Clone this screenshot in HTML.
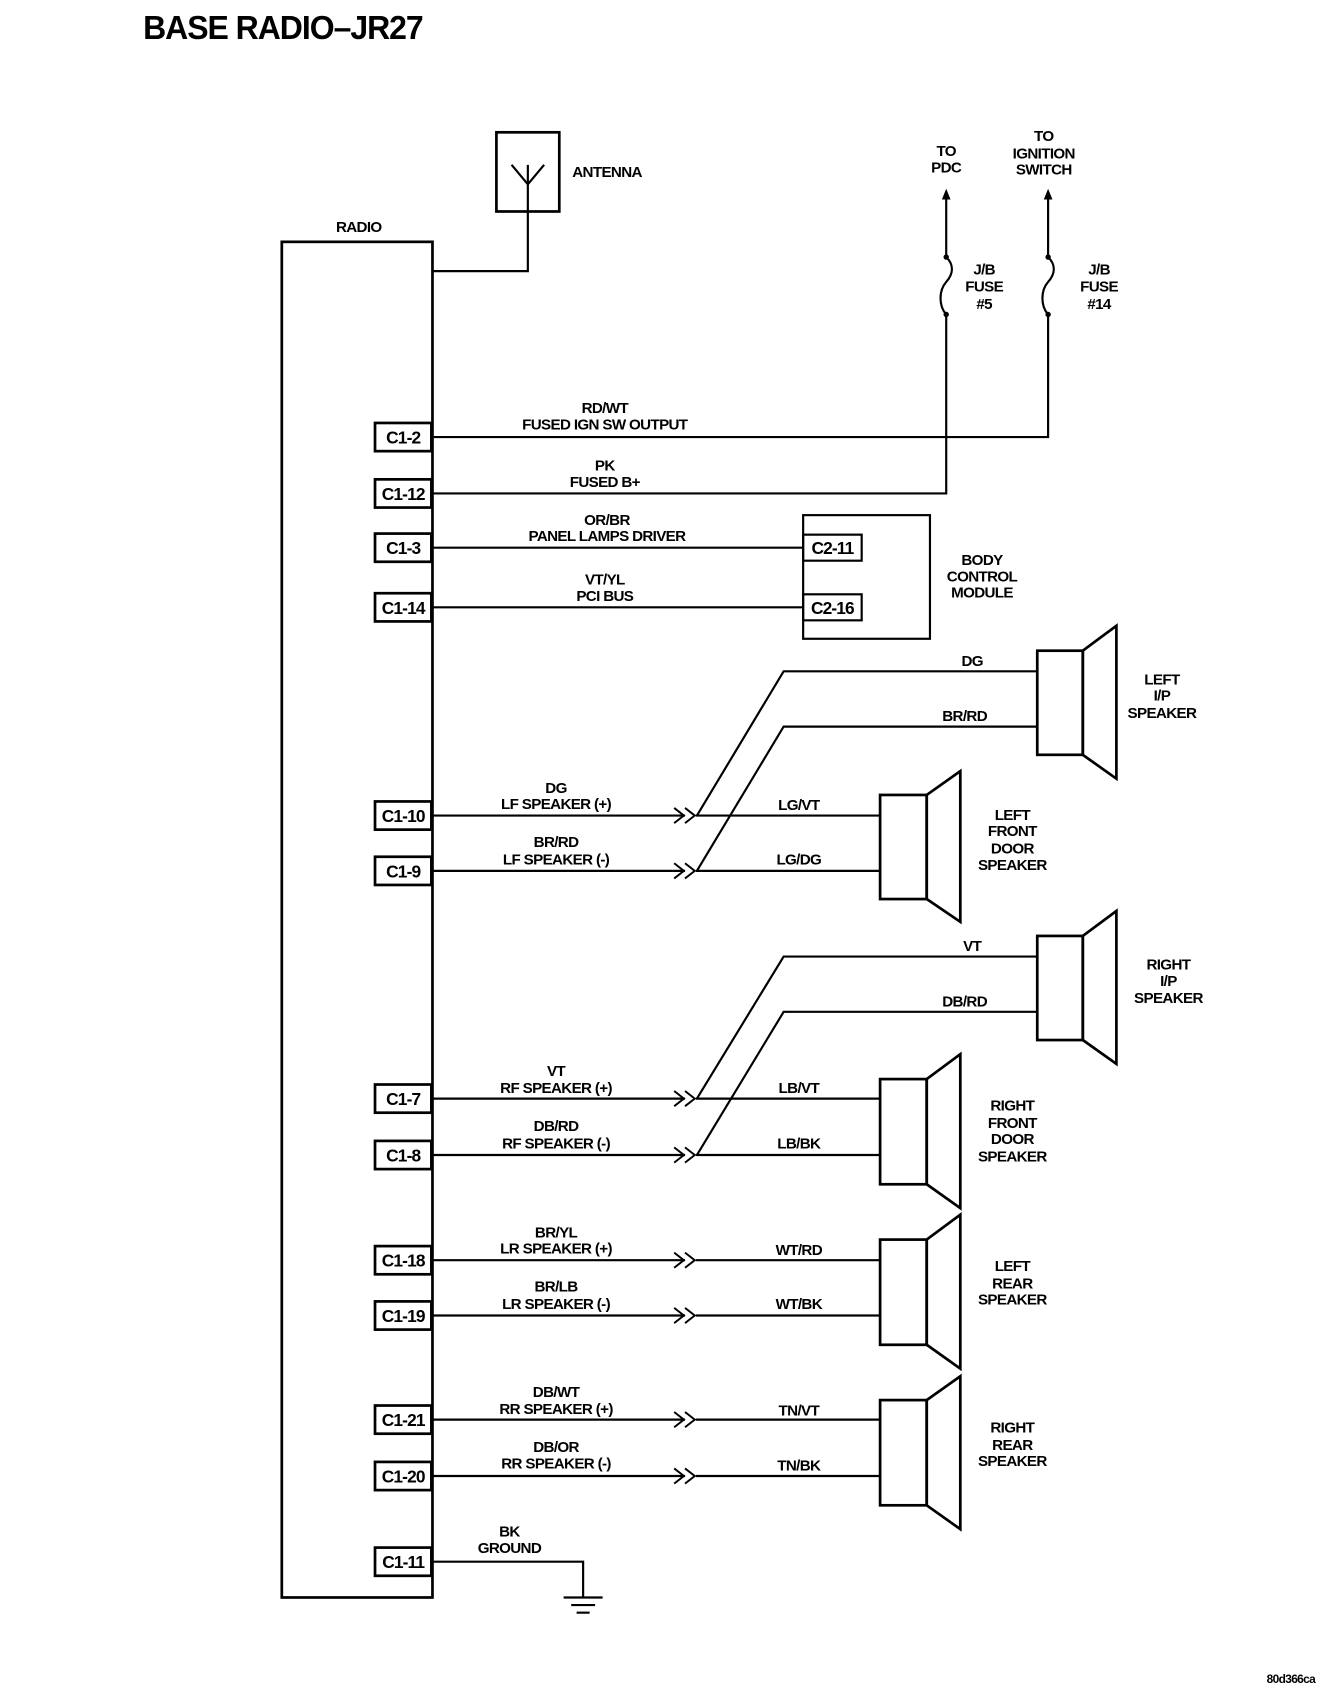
<!DOCTYPE html>
<html><head><meta charset="utf-8"><style>
html,body{margin:0;padding:0;background:#fff;}
svg{display:block}
text{font-family:"Liberation Sans",sans-serif;font-weight:bold;font-size:14px;fill:#000;text-anchor:middle;letter-spacing:-0.6px}
.l{text-anchor:start}
.c{font-size:16px;letter-spacing:-0.8px}
</style></head><body>
<svg width="1344" height="1694" viewBox="0 0 1240 1562" preserveAspectRatio="none" xmlns="http://www.w3.org/2000/svg">
<g fill="none" stroke="#000" stroke-width="2">
<rect x="260" y="223" width="139" height="1250" stroke-width="2.5"/>
<rect x="458" y="122" width="58" height="73" stroke-width="2.5"/>
<polyline points="472,152 487,170 502,152"/>
<polyline points="487,152 487,250 399,250"/>
<path d="M873,182 V237 C880,244 880,252 873,260 C866,268 866,282 873,290 V455 H399"/>
<path d="M967,182 V237 C974,244 974,252 967,260 C960,268 960,282 967,290 V403 H399"/>
<rect x="741" y="475" width="117" height="114"/>
<rect x="741" y="493" width="54" height="24"/>
<rect x="741" y="548" width="54" height="24"/>
<line x1="399" y1="505" x2="741" y2="505"/>
<line x1="399" y1="560" x2="741" y2="560"/>
<g stroke-width="2.5">
<rect x="346" y="390" width="52" height="26"/>
<rect x="346" y="442" width="52" height="26"/>
<rect x="346" y="492" width="52" height="26"/>
<rect x="346" y="547" width="52" height="26"/>
<rect x="346" y="739" width="52" height="26"/>
<rect x="346" y="790" width="52" height="26"/>
<rect x="346" y="1000" width="52" height="26"/>
<rect x="346" y="1052" width="52" height="26"/>
<rect x="346" y="1149" width="52" height="26"/>
<rect x="346" y="1200" width="52" height="26"/>
<rect x="346" y="1296" width="52" height="26"/>
<rect x="346" y="1348" width="52" height="26"/>
<rect x="346" y="1427" width="52" height="26"/>
</g>
<g>
<line x1="399" y1="752" x2="632" y2="752"/><line x1="642" y1="752" x2="812" y2="752"/>
<line x1="399" y1="803" x2="632" y2="803"/><line x1="642" y1="803" x2="812" y2="803"/>
<line x1="399" y1="1013" x2="632" y2="1013"/><line x1="642" y1="1013" x2="812" y2="1013"/>
<line x1="399" y1="1065" x2="632" y2="1065"/><line x1="642" y1="1065" x2="812" y2="1065"/>
<line x1="399" y1="1162" x2="632" y2="1162"/><line x1="642" y1="1162" x2="812" y2="1162"/>
<line x1="399" y1="1213" x2="632" y2="1213"/><line x1="642" y1="1213" x2="812" y2="1213"/>
<line x1="399" y1="1309" x2="632" y2="1309"/><line x1="642" y1="1309" x2="812" y2="1309"/>
<line x1="399" y1="1361" x2="632" y2="1361"/><line x1="642" y1="1361" x2="812" y2="1361"/>
<polyline points="643,752 723,619 957,619"/>
<polyline points="643,803 723,670 957,670"/>
<polyline points="643,1013 723,882 957,882"/>
<polyline points="643,1065 723,933 957,933"/>
</g>
<g stroke-width="1.8">
<path d="M622,745 L631,752 L622,759 M632,745 L641,752 L632,759"/>
<path d="M622,796 L631,803 L622,810 M632,796 L641,803 L632,810"/>
<path d="M622,1006 L631,1013 L622,1020 M632,1006 L641,1013 L632,1020"/>
<path d="M622,1058 L631,1065 L622,1072 M632,1058 L641,1065 L632,1072"/>
<path d="M622,1155 L631,1162 L622,1169 M632,1155 L641,1162 L632,1169"/>
<path d="M622,1206 L631,1213 L622,1220 M632,1206 L641,1213 L632,1220"/>
<path d="M622,1302 L631,1309 L622,1316 M632,1302 L641,1309 L632,1316"/>
<path d="M622,1354 L631,1361 L622,1368 M632,1354 L641,1361 L632,1368"/>
</g>
<g stroke-width="2.5">
<rect x="957" y="600" width="42" height="96"/><polygon points="999,600 1030,577 1030,718 999,696"/>
<rect x="957" y="863" width="42" height="96"/><polygon points="999,863 1030,840 1030,981 999,959"/>
<rect x="812" y="733" width="43" height="96"/><polygon points="855,733 886,711 886,850 855,829"/>
<rect x="812" y="995" width="43" height="97"/><polygon points="855,995 886,972 886,1114 855,1092"/>
<rect x="812" y="1143" width="43" height="97"/><polygon points="855,1143 886,1120 886,1262 855,1240"/>
<rect x="812" y="1291" width="43" height="97"/><polygon points="855,1291 886,1269 886,1410 855,1388"/>
</g>
<polyline points="399,1440 538,1440 538,1473"/>
<line x1="520" y1="1473" x2="556" y2="1473"/>
<line x1="527" y1="1480" x2="549" y2="1480"/>
<line x1="532" y1="1487" x2="544" y2="1487"/>
</g>
<polygon points="873,174 869,184 877,184"/>
<polygon points="967,174 963,184 971,184"/>
<circle cx="873" cy="237" r="2.5"/><circle cx="873" cy="290" r="2.5"/>
<circle cx="967" cy="237" r="2.5"/><circle cx="967" cy="290" r="2.5"/>

<text x="132" y="36" class="l" style="font-size:31px;letter-spacing:-1px" textLength="258" lengthAdjust="spacingAndGlyphs">BASE RADIO–JR27</text>
<text x="331" y="214">RADIO</text>
<text x="528" y="163" class="l">ANTENNA</text>
<text x="873" y="144">TO</text><text x="873" y="159">PDC</text>
<text x="963" y="130">TO</text><text x="963" y="146">IGNITION</text><text x="963" y="161">SWITCH</text>
<text x="908" y="253">J/B</text><text x="908" y="269">FUSE</text><text x="908" y="285">#5</text>
<text x="1014" y="253">J/B</text><text x="1014" y="269">FUSE</text><text x="1014" y="285">#14</text>

<text class="c" x="372" y="409">C1-2</text>
<text class="c" x="372" y="461">C1-12</text>
<text class="c" x="372" y="511">C1-3</text>
<text class="c" x="372" y="566">C1-14</text>
<text class="c" x="372" y="758">C1-10</text>
<text class="c" x="372" y="809">C1-9</text>
<text class="c" x="372" y="1019">C1-7</text>
<text class="c" x="372" y="1071">C1-8</text>
<text class="c" x="372" y="1168">C1-18</text>
<text class="c" x="372" y="1219">C1-19</text>
<text class="c" x="372" y="1315">C1-21</text>
<text class="c" x="372" y="1367">C1-20</text>
<text class="c" x="372" y="1446">C1-11</text>
<text class="c" x="768" y="511">C2-11</text>
<text class="c" x="768" y="566">C2-16</text>

<text x="558" y="381">RD/WT</text><text x="558" y="396">FUSED IGN SW OUTPUT</text>
<text x="558" y="434">PK</text><text x="558" y="449">FUSED B+</text>
<text x="560" y="484">OR/BR</text><text x="560" y="499">PANEL LAMPS DRIVER</text>
<text x="558" y="539">VT/YL</text><text x="558" y="554">PCI BUS</text>
<text x="906" y="521">BODY</text><text x="906" y="536">CONTROL</text><text x="906" y="551">MODULE</text>

<text x="897" y="614">DG</text><text x="890" y="665">BR/RD</text>
<text x="1072" y="631">LEFT</text><text x="1072" y="646">I/P</text><text x="1072" y="662">SPEAKER</text>
<text x="513" y="731">DG</text><text x="513" y="746">LF SPEAKER (+)</text>
<text x="513" y="781">BR/RD</text><text x="513" y="797">LF SPEAKER (-)</text>
<text x="737" y="747">LG/VT</text><text x="737" y="797">LG/DG</text>
<text x="934" y="756">LEFT</text><text x="934" y="771">FRONT</text><text x="934" y="787">DOOR</text><text x="934" y="802">SPEAKER</text>

<text x="897" y="877">VT</text><text x="890" y="928">DB/RD</text>
<text x="1078" y="894">RIGHT</text><text x="1078" y="909">I/P</text><text x="1078" y="925">SPEAKER</text>
<text x="513" y="992">VT</text><text x="513" y="1008">RF SPEAKER (+)</text>
<text x="513" y="1043">DB/RD</text><text x="513" y="1059">RF SPEAKER (-)</text>
<text x="737" y="1008">LB/VT</text><text x="737" y="1059">LB/BK</text>
<text x="934" y="1024">RIGHT</text><text x="934" y="1040">FRONT</text><text x="934" y="1055">DOOR</text><text x="934" y="1071">SPEAKER</text>

<text x="513" y="1141">BR/YL</text><text x="513" y="1156">LR SPEAKER (+)</text>
<text x="513" y="1191">BR/LB</text><text x="513" y="1207">LR SPEAKER (-)</text>
<text x="737" y="1157">WT/RD</text><text x="737" y="1207">WT/BK</text>
<text x="934" y="1172">LEFT</text><text x="934" y="1188">REAR</text><text x="934" y="1203">SPEAKER</text>

<text x="513" y="1288">DB/WT</text><text x="513" y="1304">RR SPEAKER (+)</text>
<text x="513" y="1339">DB/OR</text><text x="513" y="1354">RR SPEAKER (-)</text>
<text x="737" y="1305">TN/VT</text><text x="737" y="1356">TN/BK</text>
<text x="934" y="1321">RIGHT</text><text x="934" y="1337">REAR</text><text x="934" y="1352">SPEAKER</text>

<text x="470" y="1417">BK</text><text x="470" y="1432">GROUND</text>
<text x="1191" y="1552" style="font-size:11px">80d366ca</text>
</svg>
</body></html>
